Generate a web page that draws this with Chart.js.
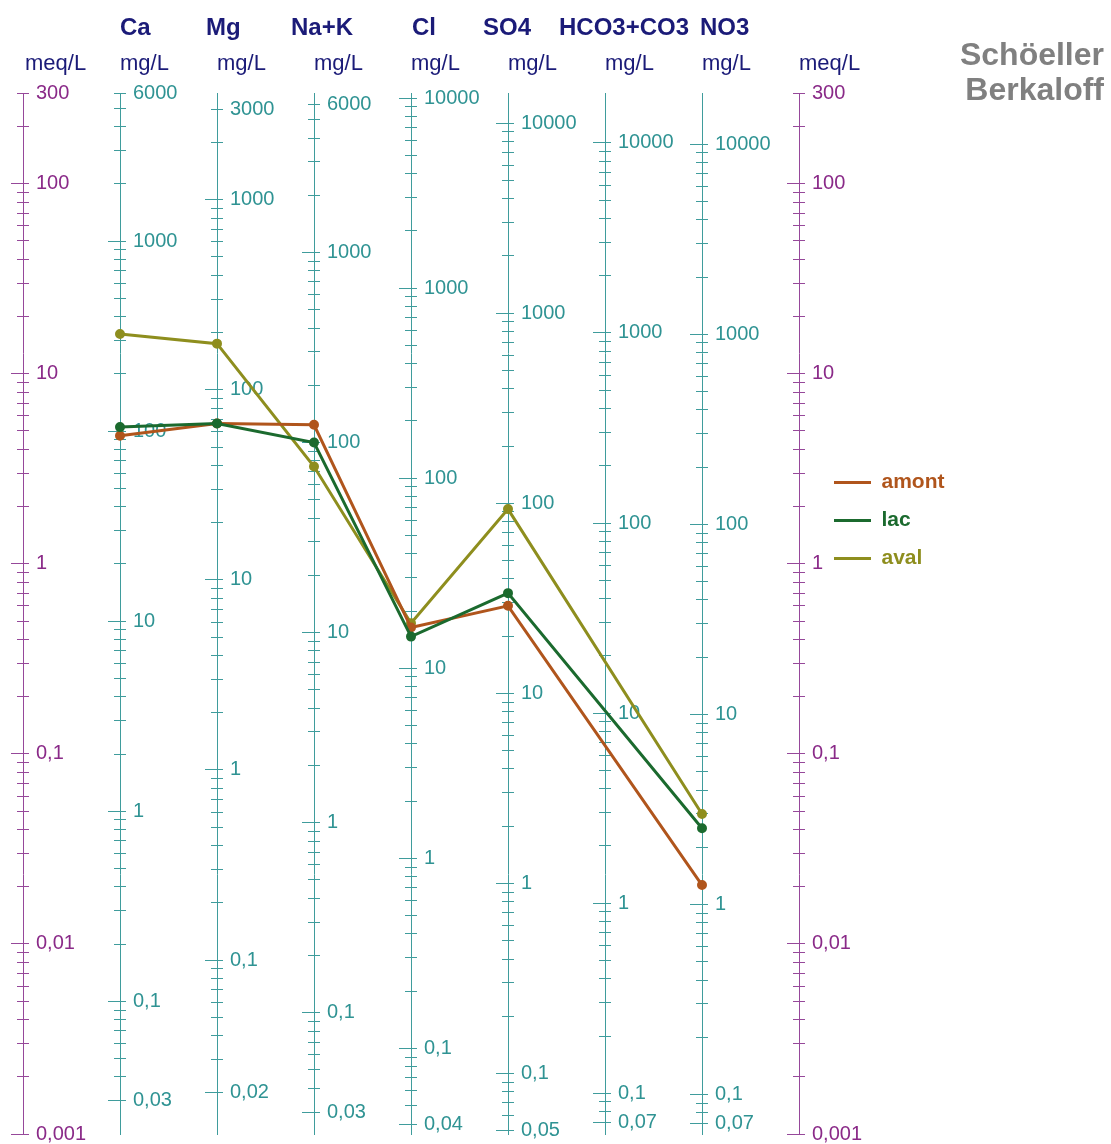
<!DOCTYPE html>
<html>
<head>
<meta charset="utf-8">
<script src="https://cdn.jsdelivr.net/npm/chart.js@4/dist/chart.umd.min.js"></script>
<style>
html, body { margin: 0; padding: 0; background: #ffffff; }
#wrap { width: 1111px; height: 1144px; position: relative; }
</style>
</head>
<body>
<div id="wrap"><canvas id="c" width="1111" height="1144"></canvas></div>
<script>
// ---------------- data ----------------
const species = ['Ca', 'Mg', 'Na+K', 'Cl', 'SO4', 'HCO3+CO3', 'NO3'];
const unitLabels = ['meq/L', 'mg/L', 'mg/L', 'mg/L', 'mg/L', 'mg/L', 'mg/L', 'mg/L', 'meq/L'];
const eqWeights = [20.04, 12.15, 23.0, 35.45, 48.03, 61.02, 62.0]; // mg per meq
const meqRange = [0.001, 300];

// values in meq/L (HCO3+CO3 not measured)
const amont = [4.72, 5.47, 5.39, 0.462, 0.601, null, 0.0204];
const lac   = [5.24, 5.47, 4.35, 0.414, 0.701, null, 0.0406];
const aval  = [16.2, 14.4, 3.25, 0.487, 1.94, null, 0.0483];

// tick labels
const meqLabels  = [300, 100, 10, 1, 0.1, 0.01, 0.001];
const caLabels   = [6000, 1000, 100, 10, 1, 0.1, 0.03];
const mgLabels   = [3000, 1000, 100, 10, 1, 0.1, 0.02];
const naKLabels  = [6000, 1000, 100, 10, 1, 0.1, 0.03];
const clLabels   = [10000, 1000, 100, 10, 1, 0.1, 0.04];
const so4Labels  = [10000, 1000, 100, 10, 1, 0.1, 0.05];
const hco3Labels = [10000, 1000, 100, 10, 1, 0.1, 0.07];
const no3Labels  = [10000, 1000, 100, 10, 1, 0.1, 0.07];
const speciesLabels = [caLabels, mgLabels, naKLabels, clLabels, so4Labels, hco3Labels, no3Labels];

// ---------------- style ----------------
const FAM = '"Liberation Sans", Arial, Helvetica, sans-serif';
Chart.defaults.font.family = FAM;
const COLORS = { amont: '#b0551c', lac: '#1b6a2e', aval: '#8e8e1e' };
const MEQ_TEXT = '#8a2a88', MEQ_LINE = '#96489a';
const MG_TEXT = '#2f9393', MG_LINE = '#3f9c9c';
const NAVY = '#1b1b78';
const nameShift = [0, -11, -23, 1, -25, -46, -2];

// ---------------- helpers ----------------
const same = (a, b) => Math.abs(a - b) <= Math.abs(b) * 1e-6;
const isPow10 = v => same(Math.pow(10, Math.round(Math.log10(v))), v);
const fmt = n => String(n).replace('.', ',');
function genTicks(lo, hi) {
  const out = [];
  for (let e = Math.floor(Math.log10(lo)); e <= Math.ceil(Math.log10(hi)); e++) {
    for (let m = 1; m <= 9; m++) {
      const v = Number((m * Math.pow(10, e)).toPrecision(8));
      if (v >= lo * 0.999999 && v <= hi * 1.000001) out.push(v);
    }
  }
  return out;
}

const axisDefs = [{ f: 1, labels: meqLabels, text: MEQ_TEXT, line: MEQ_LINE }];
species.forEach((s, i) => axisDefs.push({ f: eqWeights[i], labels: speciesLabels[i], text: MG_TEXT, line: MG_LINE }));
axisDefs.push({ f: 1, labels: meqLabels, text: MEQ_TEXT, line: MEQ_LINE });

const scales = {
  x: { type: 'linear', min: 0, max: 8, display: false }
};
axisDefs.forEach((ax, k) => {
  const lo = meqRange[0] * ax.f, hi = meqRange[1] * ax.f;
  const allTicks = genTicks(lo, hi);
  const bottomLabel = ax.labels[ax.labels.length - 1];
  const longTicks = allTicks.filter(v => isPow10(v) || same(v, bottomLabel));
  // crossing ticks + labels
  scales['r' + k] = {
    type: 'logarithmic', axis: 'y', position: 'right', min: lo, max: hi, bounds: 'data',
    afterBuildTicks: s => { s.ticks = allTicks.map(v => ({ value: v })); },
    afterFit: s => { s.width = 0; s.paddingTop = 0; s.paddingBottom = 0; },
    grid: { drawOnChartArea: false, drawTicks: true, tickLength: 12, color: ax.line, tickColor: ax.line, tickWidth: 1 },
    border: { display: false },
    ticks: {
      autoSkip: false, padding: 7, color: ax.text, font: { size: 20, family: FAM },
      callback: v => { const hit = ax.labels.find(l => same(v, l)); return hit === undefined ? '' : fmt(hit); }
    }
  };
  // axis line + long (major) ticks on the left side
  scales['l' + k] = {
    type: 'logarithmic', axis: 'y', position: 'left', min: lo, max: hi, bounds: 'data',
    afterBuildTicks: s => { s.ticks = longTicks.map(v => ({ value: v })); },
    afterFit: s => { s.width = 0; s.paddingTop = 0; s.paddingBottom = 0; },
    grid: { drawOnChartArea: false, drawTicks: true, tickLength: 12, color: ax.line, tickColor: ax.line, tickWidth: 1 },
    border: { display: true, color: ax.line, width: 1 },
    ticks: { display: false, autoSkip: false }
  };
});

const toPts = arr => arr.map((v, i) => ({ x: i + 1, y: v }));
const mkSet = (label, arr, order) => ({
  label, data: toPts(arr), order,
  borderColor: COLORS[label], backgroundColor: COLORS[label],
  pointBackgroundColor: COLORS[label], pointBorderColor: COLORS[label],
  borderWidth: 3, pointRadius: 3.5, pointHoverRadius: 3.5,
  spanGaps: true, tension: 0, xAxisID: 'x', yAxisID: 'r0'
});

// place the axes at their columns, and the legend beside the diagram
const placePlugin = {
  id: 'placeAxes',
  afterLayout(chart) {
    const xs = chart.scales.x;
    axisDefs.forEach((ax, k) => {
      const px = xs.getPixelForValue(k);
      const r = chart.scales['r' + k];
      r.left = px - 6; r.right = px + 90; r.width = 96;
      const l = chart.scales['l' + k];
      l.left = px - 20; l.right = px; l.width = 20;
    });
    const lg = chart.legend;
    if (lg) {
      lg.left = xs.getPixelForValue(8) + 18; lg.right = 1111; lg.width = lg.right - lg.left;
      lg.top = 455; lg.bottom = 620; lg.height = lg.bottom - lg.top;
    }
  }
};

// column headers and diagram name
const headerPlugin = {
  id: 'headers',
  afterDraw(chart) {
    const ctx = chart.ctx, xs = chart.scales.x;
    ctx.save();
    ctx.textAlign = 'left';
    ctx.textBaseline = 'alphabetic';
    ctx.fillStyle = NAVY;
    ctx.font = 'bold 24px ' + FAM;
    species.forEach((s, i) => ctx.fillText(s, xs.getPixelForValue(i + 1) + nameShift[i], 35));
    ctx.font = '22px ' + FAM;
    unitLabels.forEach((u, k) => ctx.fillText(u, xs.getPixelForValue(k) + (k === 0 ? 2 : 0), 70));
    ctx.fillStyle = '#808080';
    ctx.font = 'bold 32px ' + FAM;
    ctx.textAlign = 'right';
    ctx.fillText('Schöeller', 1104, 65);
    ctx.fillText('Berkaloff', 1104, 100);
    ctx.restore();
  }
};

new Chart(document.getElementById('c'), {
  type: 'line',
  data: {
    datasets: [
      mkSet('amont', amont, 1),
      mkSet('lac', lac, 0),
      mkSet('aval', aval, 2)
    ]
  },
  options: {
    responsive: false,
    animation: false,
    events: [],
    layout: { padding: { left: 23, right: 212, top: 93, bottom: 10 } },
    scales,
    plugins: {
      title: { display: false },
      tooltip: { enabled: false },
      legend: {
        display: true,
        position: 'right',
        align: 'start',
        maxWidth: 100,
        labels: {
          usePointStyle: true,
          pointStyle: 'line',
          pointStyleWidth: 37,
          padding: 17,
          font: { size: 21, weight: 'bold', family: FAM },
          sort: (a, b) => a.datasetIndex - b.datasetIndex,
          generateLabels: chart => Chart.defaults.plugins.legend.labels.generateLabels(chart)
            .map(it => Object.assign(it, { fontColor: it.strokeStyle, lineWidth: 3 }))
        }
      }
    }
  },
  plugins: [placePlugin, headerPlugin]
});
</script>
</body>
</html>
